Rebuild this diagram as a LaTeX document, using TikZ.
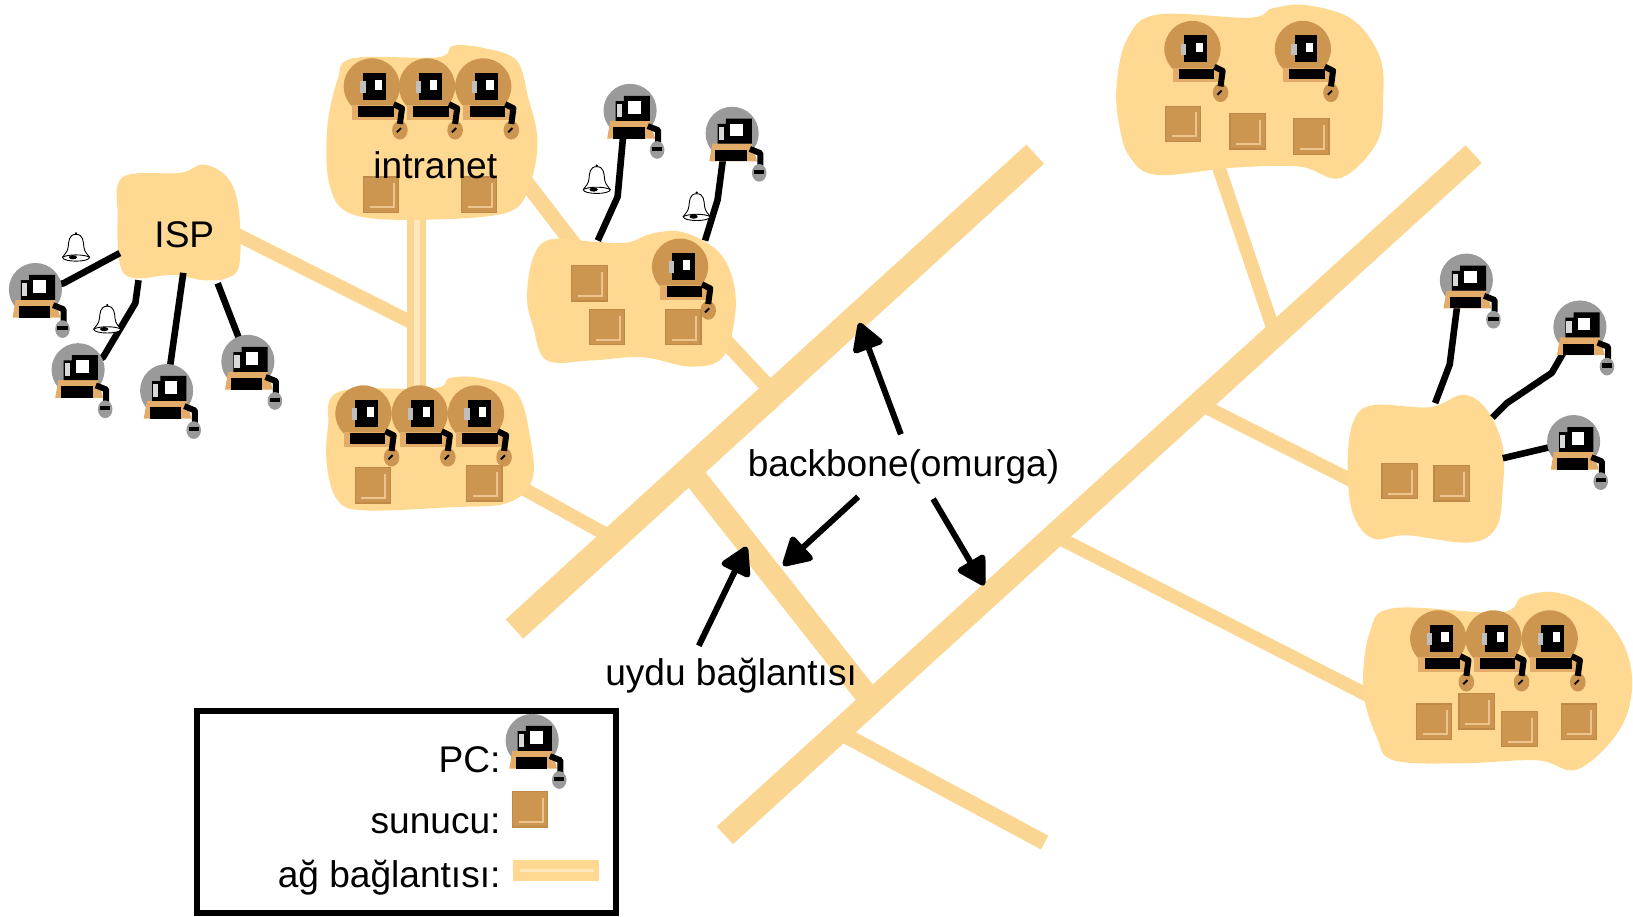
\documentclass[tikz,border=0pt]{standalone}
\usepackage{fontspec}
\setmainfont{Liberation Sans}
\usetikzlibrary{arrows.meta}
\definecolor{sand}{HTML}{FFD992}
\definecolor{roadc}{HTML}{FBD692}
\definecolor{lightsand}{HTML}{FFE7BE}
\definecolor{tan}{HTML}{CC9650}
\definecolor{tanedge}{HTML}{BF8A48}
\definecolor{tanlight}{HTML}{EDC48D}
\definecolor{basec}{HTML}{E3AC68}
\definecolor{greyc}{HTML}{9A9A9A}
\tikzset{
  road/.style={line width=#1*0.5207pt,draw=roadc,line cap=butt},
  blob/.style={fill=sand,draw=none},
  cable/.style={line width=3.3pt,draw=black,line join=round},
  pointer/.style={line width=3pt,draw=black,-{Triangle[length=15.5pt,width=17pt,round]}},
  lbl/.style={font=\fontsize{18.55pt}{20pt}\selectfont,text=black,inner sep=0pt,anchor=base},
  lblr/.style={lbl,anchor=base east},
  pcgrey/.pic={
    \fill[greyc] (0,0) circle[radius=25.5];
    \fill[basec] (-19,10) -- (19,10) -- (24,27) -- (-22,27) -- cycle;
    \fill[black] (-6,-14) -- (19,-14) -- (19,10) -- (-14,10) -- (-14,-9) -- (-6,-9) -- cycle;
    \fill[white] (-2,-9) rectangle (10,3);
    \fill[black!15] (-13,-6) rectangle (-8,6);
    \fill[black] (-16,16) rectangle (14,27);
    \draw[line width=3pt,line join=round] (17,15) -- (27,19) -- (27,31);
    \fill[greyc] (26,38) ellipse[x radius=7,y radius=8.5];
    \fill[black] (21,35) rectangle (31,39);
  },
  pcbrown/.pic={
    \fill[tan] (0,0) circle[radius=27];
    \fill[basec] (-19,18) rectangle (30,32);
    \fill[black] (-8,-13) rectangle (14,13);
    \fill[white] (3,-6) rectangle (10,3);
    \fill[black!25] (-11,-5) rectangle (-6,6);
    \fill[black] (-13,19) rectangle (21,29);
    \fill[tan] (27,42) ellipse[x radius=7.5,y radius=9];
    \draw[line width=3pt,line join=round] (21,17) -- (29,21) -- (27,36);
    \draw[line width=0.9pt] (24,44) -- (28,40);
  },
  serverbox/.pic={
    \fill[tan,draw=tanedge,line width=0.6pt] (-17,-17) rectangle (17,17);
    \draw[tanlight,line width=1pt] (-11,12) -- (12,12) -- (12,-11);
  },
  bellicon/.pic={
    \filldraw[fill=white,draw=black,line width=0.45pt]
      (0,-12) .. controls (-7,-12) and (-7,-5) .. (-7.5,0)
      .. controls (-8,5) and (-11,7) .. (-13,10)
      .. controls (-13,15) and (13,15) .. (13,10)
      .. controls (11,7) and (8,5) .. (7.5,0)
      .. controls (7,-5) and (7,-12) .. (0,-12) -- cycle;
    \draw[black,line width=0.45pt] (-13,10) .. controls (-8,7) and (8,7) .. (13,10);
    \fill[black] (-3,10) ellipse[x radius=4,y radius=2];
    \fill[black] (0,-13) circle[radius=1.2];
  }
}
\begin{document}
\begin{tikzpicture}[x=0.5207pt,y=-0.5207pt]
\useasboundingbox (0,0) rectangle (1568,880);

% --- named points
\coordinate (bb1a) at (494,604);   \coordinate (bb1b) at (994,148);
\coordinate (bb2a) at (696,802);   \coordinate (bb2b) at (1415,148);
\coordinate (satA) at (660,449);   \coordinate (satB) at (838,675);
\coordinate (lowA) at (800,700);   \coordinate (lowB) at (1003,809);
\coordinate (trA)  at (1170,160);  \coordinate (trB)  at (1224,320);
\coordinate (rmA)  at (1150,387);  \coordinate (rmB)  at (1305,465);
\coordinate (rbA)  at (1010,513);  \coordinate (rbB)  at (1320,671);
\coordinate (midA) at (695,326);   \coordinate (midB) at (742,376);
\coordinate (blA)  at (495,465);   \coordinate (blB)  at (587,516);
\coordinate (ispA) at (225,224);   \coordinate (ispB) at (396,310);
\coordinate (vtA)  at (400,200);   \coordinate (vtB)  at (400,375);
\coordinate (inA)  at (505,175);   \coordinate (inB)  at (552,236);

% --- network links
\draw[road=25] (bb1a) -- (bb1b);
\draw[road=23] (bb2a) -- (bb2b);
\draw[road=22] (satA) -- (satB);
\draw[road=15] (lowA) -- (lowB);
\draw[road=13] (trA) -- (trB);
\draw[road=13] (rmA) -- (rmB);
\draw[road=13] (rbA) -- (rbB);
\draw[road=15] (midA) -- (midB);
\draw[road=13] (blA) -- (blB);
\draw[road=13] (ispA) -- (ispB);
\draw[road=15] (inA) -- (inB);
\draw[road=18] (vtA) -- (vtB);
\draw[line width=3pt,draw=lightsand] (vtA) -- (vtB);

% --- clouds
\fill[blob] plot[smooth cycle,tension=0.6] coordinates {(118,170)(173,166)(195,158)(218,170)(229,199)(230,253)(218,267)(195,269)(166,264)(128,267)(115,253)(113,208)};
\fill[blob] plot[smooth cycle,tension=0.6] coordinates {(339,56)(420,55)(435,44)(464,46)(496,58)(507,93)(516,134)(509,176)(487,204)(403,211)(339,206)(317,180)(314,125)(324,77)};
\fill[blob] plot[smooth cycle,tension=0.6] coordinates {(326,376)(416,373)(432,363)(461,363)(496,377)(509,420)(511,461)(487,483)(435,487)(349,490)(324,480)(314,448)(315,410)};
\fill[blob] plot[smooth cycle,tension=0.6] coordinates {(528,230)(569,232)(602,233)(627,224)(656,223)(688,240)(703,266)(706,301)(694,343)(663,352)(617,343)(569,346)(525,346)(512,314)(506,285)(512,247)};
\fill[blob] plot[smooth cycle,tension=0.6] coordinates {(1111,14)(1200,17)(1222,8)(1255,5)(1299,19)(1325,55)(1328,96)(1322,137)(1287,171)(1248,160)(1184,161)(1111,168)(1085,151)(1075,122)(1072,84)(1082,38)};
\fill[blob] plot[smooth cycle,tension=0.6] coordinates {(1318,389)(1373,391)(1405,379)(1428,394)(1443,429)(1443,468)(1437,506)(1411,521)(1351,514)(1318,517)(1299,493)(1294,448)(1299,406)};
\fill[blob] plot[smooth cycle,tension=0.6] coordinates {(1338,584)(1440,588)(1462,573)(1495,569)(1533,586)(1560,621)(1567,663)(1553,704)(1514,739)(1476,730)(1402,733)(1338,730)(1322,708)(1309,663)(1315,608)};

% --- PC positions
\coordinate (pa) at (34,278);   \coordinate (pb) at (75,355);
\coordinate (pc) at (160,375);  \coordinate (pd) at (238,347);
\coordinate (pe) at (605,106);  \coordinate (pf) at (703,128);
\coordinate (pg) at (1408,269); \coordinate (ph) at (1517,314);
\coordinate (pi) at (1511,424);
\coordinate (ca) at (115,243);  \coordinate (cb) at (133,269);
\coordinate (cc) at (176,262);  \coordinate (cd) at (209,272);
\coordinate (ce) at (574,231);  \coordinate (cf) at (677,231);
\coordinate (cg) at (1378,387); \coordinate (ch) at (1433,401);
\coordinate (ci) at (1443,440);

% --- dial-up cables
\draw[cable] (ca) -- (61,272) -- (pa);
\draw[cable] (cb) -- (130,291) -- (99,343) -- (pb);
\draw[cable] (cc) -- (pc);
\draw[cable] (cd) -- (pd);
\draw[cable] (ce) -- (593,189) -- (598,134) -- (pe);
\draw[cable] (cf) -- (689,192) -- (694,154) -- (pf);
\draw[cable] (cg) -- (1392,350) -- (1399,295) -- (pg);
\draw[cable] (ch) -- (1447,387) -- (1490,358) -- (1501,339) -- (ph);
\draw[cable] (ci) -- (pi);

% --- grey PCs
\pic (gpa) at (pa) {pcgrey};
\pic (gpb) at (pb) {pcgrey};
\pic (gpc) at (pc) {pcgrey};
\pic (gpd) at (pd) {pcgrey};
\pic (gpe) at (pe) {pcgrey};
\pic (gpf) at (pf) {pcgrey};
\pic (gpg) at (pg) {pcgrey};
\pic (gph) at (ph) {pcgrey};
\pic (gpi) at (pi) {pcgrey};

% --- brown PCs
\pic (ba) at (357,83) {pcbrown};
\pic (bb) at (410,83) {pcbrown};
\pic (bc) at (464,83) {pcbrown};
\pic (bd) at (349,397) {pcbrown};
\pic (be) at (403,397) {pcbrown};
\pic (bf) at (457,397) {pcbrown};
\pic (bg) at (653,256) {pcbrown};
\pic (bh) at (1145,47) {pcbrown};
\pic (bi) at (1251,47) {pcbrown};
\pic (bj) at (1381,613) {pcbrown};
\pic (bk) at (1434,613) {pcbrown};
\pic (bl) at (1488,613) {pcbrown};

% --- servers
\pic (sa) at (366,187) {serverbox};
\pic (sb) at (460,187) {serverbox};
\pic (sc) at (358,466) {serverbox};
\pic (sd) at (465,464) {serverbox};
\pic (se) at (566,272) {serverbox};
\pic (sf) at (583,314) {serverbox};
\pic (sg) at (656,314) {serverbox};
\pic (sh) at (1136,119) {serverbox};
\pic (si) at (1198,126) {serverbox};
\pic (sj) at (1259,131) {serverbox};
\pic (sk) at (1344,462) {serverbox};
\pic (sl) at (1394,464) {serverbox};
\pic (sm) at (1377,693) {serverbox};
\pic (sn) at (1418,683) {serverbox};
\pic (so) at (1459,700) {serverbox};
\pic (sp) at (1516,693) {serverbox};

% --- bells
\pic (ka) at (73,237) {bellicon};
\pic (kb) at (103,306) {bellicon};
\pic (kc) at (573,172) {bellicon};
\pic (kd) at (669,198) {bellicon};

% --- labels
\node[lbl] (tisp) at (177,238) {ISP};
\node[lbl] (tintra) at (418,171) {intranet};
\node[lbl] (tbb) at (867.5,457.5) {backbone(omurga)};
\node[lbl] (tsat) at (702,658) {uydu bağlantısı};

% --- pointers
\coordinate (aa) at (865,417); \coordinate (ab) at (825,310);
\coordinate (ac) at (824,477); \coordinate (ad) at (752,543);
\coordinate (ae) at (896,479); \coordinate (af) at (945,562);
\coordinate (ag) at (671,620); \coordinate (ah) at (717,525);
\draw[pointer] (aa) -- (ab);
\draw[pointer] (ac) -- (ad);
\draw[pointer] (ae) -- (af);
\draw[pointer] (ag) -- (ah);

% --- legend
\node[draw=black,line width=3pt,inner sep=0pt,minimum width=403*0.5207pt,minimum height=194*0.5207pt,anchor=north west] (legend) at (186,680) {};
\pic (lpc) at (511,711) {pcgrey};
\pic (lsv) at (509,777) {serverbox};
\node[lblr] (tpc) at (481,742) {PC:};
\node[lblr] (tsv) at (481,800) {sunucu:};
\node[lblr] (tlk) at (481,852) {ağ bağlantısı:};
\fill[sand] (493,826) rectangle (575,846);
\draw[lightsand,line width=1.6pt] (499,836) -- (570,836);
\end{tikzpicture}
\end{document}
